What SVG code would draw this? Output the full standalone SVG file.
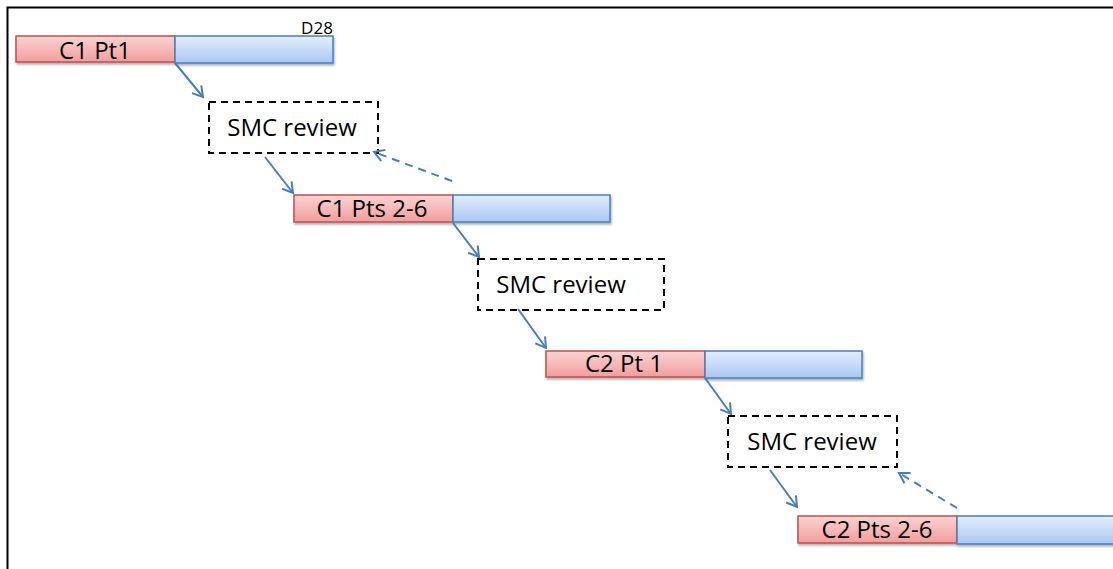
<svg xmlns="http://www.w3.org/2000/svg" width="1113" height="569" viewBox="0 0 1113 569">
<defs>
<linearGradient id="gr" x1="0" y1="0" x2="0" y2="1"><stop offset="0" stop-color="#fbd3d3"/><stop offset="1" stop-color="#f29d9d"/></linearGradient>
<linearGradient id="gb" x1="0" y1="0" x2="0" y2="1"><stop offset="0" stop-color="#e3eefd"/><stop offset="1" stop-color="#a9c7f3"/></linearGradient>
<filter id="sh" x="-5%" y="-20%" width="110%" height="160%"><feDropShadow dx="1" dy="2" stdDeviation="1.2" flood-color="#000" flood-opacity="0.3"/></filter>
<marker id="ah" markerWidth="16" markerHeight="16" refX="12" refY="8" orient="auto" markerUnits="userSpaceOnUse"><path d="M2,2 L12,8 L2,14" fill="none" stroke="#4a7ebb" stroke-width="2"/></marker>
</defs>
<style>
.red{fill:url(#gr);stroke:#c0504d;stroke-width:1.5}
.blue{fill:url(#gb);stroke:#4a7ebb;stroke-width:1.5}
.smc{fill:#fff;stroke:#000;stroke-width:2;stroke-dasharray:7,5}
.t{font-family:"Open Sans","Liberation Sans",sans-serif;font-size:24px;fill:#000;text-anchor:middle}
.c{fill:none;stroke:#4a7ebb;stroke-width:2;marker-end:url(#ah)}
.d{stroke-dasharray:8,6}
</style>
<rect x="0" y="0" width="1113" height="569" fill="#fff"/>
<path d="M7.5,569 V7.5 H1113" fill="none" stroke="#000" stroke-width="2"/>
<g id="bar1" filter="url(#sh)">
<rect class="red" x="16" y="36" width="159" height="26"/>
<rect class="blue" x="175" y="36" width="158" height="27"/>
</g>
<text class="t" x="95" y="59">C1 Pt1</text>
<text class="t" x="317" y="34" style="font-size:17px">D28</text>
<g id="smc1"><rect class="smc" x="209" y="102" width="169" height="51"/><text class="t" x="292" y="136">SMC review</text></g>
<g id="bar2" filter="url(#sh)">
<rect class="red" x="294" y="195" width="159" height="27"/>
<rect class="blue" x="453" y="195" width="157" height="27"/>
</g>
<text class="t" x="372" y="217">C1 Pts 2-6</text>
<g id="smc2"><rect class="smc" x="478" y="259" width="186" height="51"/><text class="t" x="561" y="293">SMC review</text></g>
<g id="bar3" filter="url(#sh)">
<rect class="red" x="546" y="351" width="159" height="26"/>
<rect class="blue" x="705" y="351" width="157" height="27"/>
</g>
<text class="t" x="624" y="372">C2 Pt 1</text>
<g id="smc3"><rect class="smc" x="728" y="416" width="169" height="51"/><text class="t" x="812" y="450">SMC review</text></g>
<g id="bar4" filter="url(#sh)">
<rect class="red" x="798" y="516" width="159" height="27"/>
<rect class="blue" x="957" y="516" width="160" height="28"/>
</g>
<text class="t" x="877" y="538">C2 Pts 2-6</text>
<g id="connectors">
<line class="c" x1="175" y1="63" x2="203" y2="97"/>
<line class="c" x1="265" y1="157" x2="293" y2="193"/>
<line class="c d" x1="452" y1="181" x2="374" y2="152"/>
<line class="c" x1="453" y1="223" x2="479" y2="257"/>
<line class="c" x1="518" y1="309" x2="546" y2="348"/>
<line class="c" x1="705" y1="378" x2="731" y2="414"/>
<line class="c" x1="770" y1="470" x2="797" y2="507"/>
<line class="c d" x1="957" y1="508" x2="899" y2="473"/>
</g>
</svg>
